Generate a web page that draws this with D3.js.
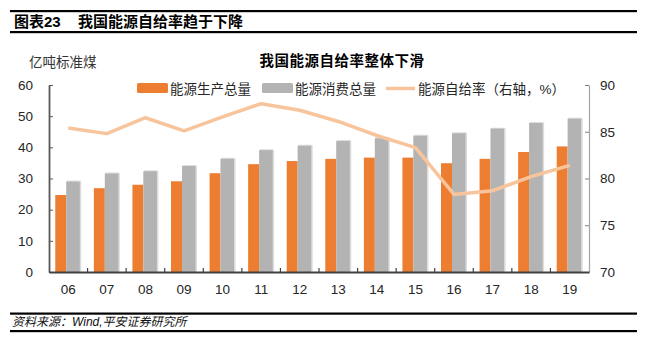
<!DOCTYPE html>
<html>
<head>
<meta charset="utf-8">
<script src="https://cdn.jsdelivr.net/npm/d3@7"></script>
<style>
  body { margin: 0; background: #fff; }
  svg { display: block; font-family: "Liberation Sans", Arial, "Noto Sans CJK SC", sans-serif; }
  .tick-label { font-size: 13.5px; fill: #262626; }
  .legend-label { font-size: 13.5px; fill: #262626; }
</style>
</head>
<body>
<svg width="646" height="341"></svg>
<script>
// chart values
var years = ['06','07','08','09','10','11','12','13','14','15','16','17','18','19'];
var production = [24.7, 26.9, 28.0, 29.1, 31.7, 34.6, 35.6, 36.3, 36.7, 36.7, 34.9, 36.3, 38.5, 40.3];
var consumption = [29.0, 31.6, 32.3, 34.0, 36.3, 39.1, 40.5, 42.0, 42.9, 43.7, 44.5, 46.0, 47.8, 49.2];
var selfRate = [85.4, 84.8, 86.5, 85.1, 86.6, 88.0, 87.3, 86.1, 84.6, 83.3, 78.3, 78.7, 80.2, 81.4];
var leftTicks = [0, 10, 20, 30, 40, 50, 60];
var rightTicks = [70, 75, 80, 85, 90];

var svg = d3.select('svg'),
    width = 646, height = 341;

var plotLeft = 49, plotRight = 589, plotTop = 85, plotBottom = 272;

var x = d3.scaleBand().domain(years).range([plotLeft, plotRight]);
var yL = d3.scaleLinear().domain([0, 60]).range([plotBottom, plotTop]);
var yR = d3.scaleLinear().domain([70, 90]).range([plotBottom, plotTop]);

// header / footer rules
svg.append('rect').attr('x', 10).attr('y', 10).attr('width', 627).attr('height', 2.2).attr('fill', '#000');
svg.append('rect').attr('x', 10).attr('y', 31).attr('width', 627).attr('height', 2.2).attr('fill', '#000');
svg.append('rect').attr('x', 10).attr('y', 312.5).attr('width', 627).attr('height', 2.2).attr('fill', '#000');
svg.append('rect').attr('x', 10).attr('y', 330).attr('width', 627).attr('height', 2.2).attr('fill', '#000');

svg.append('text')
    .attr('x', 14).attr('y', 27)
    .style('font-size', '15px').style('font-weight', 'bold')
    .text('图表23');
svg.append('text')
    .attr('x', 78).attr('y', 27)
    .style('font-size', '15px').style('font-weight', 'bold')
    .text('我国能源自给率趋于下降');

svg.append('text')
    .attr('x', 12).attr('y', 326)
    .style('font-size', '12px').style('font-style', 'italic').attr('fill', '#111')
    .text('资料来源：Wind,平安证券研究所');

// chart title + unit
svg.append('text')
    .attr('x', 342).attr('y', 66)
    .attr('text-anchor', 'middle')
    .style('font-size', '14.5px').style('font-weight', 'bold')
    .style('letter-spacing', '0.5px')
    .text('我国能源自给率整体下滑');
svg.append('text')
    .attr('x', 29).attr('y', 67)
    .style('font-size', '13.5px').attr('fill', '#333')
    .text('亿吨标准煤');

// bars
var g = svg.append('g');
var bw1 = 11, bw2 = 13.5;

g.selectAll('rect.prod').data(production).enter().append('rect')
    .attr('class', 'prod')
    .attr('x', function(d, i) { return x(years[i]) + x.bandwidth()/2 - 13; })
    .attr('y', function(d) { return yL(d); })
    .attr('width', bw1)
    .attr('height', function(d) { return yL(0) - yL(d); })
    .attr('fill', '#ED7D31');

// soft shadow on grey bars
g.selectAll('rect.consShadow').data(consumption).enter().append('rect')
    .attr('class', 'consShadow')
    .attr('x', function(d, i) { return x(years[i]) + x.bandwidth()/2 - 2; })
    .attr('y', function(d) { return yL(d) - 1; })
    .attr('width', bw2 + 1.5)
    .attr('height', function(d) { return yL(0) - yL(d) + 1; })
    .attr('rx', 1.5)
    .attr('fill', '#DCDCDC');

g.selectAll('rect.cons').data(consumption).enter().append('rect')
    .attr('class', 'cons')
    .attr('x', function(d, i) { return x(years[i]) + x.bandwidth()/2 - 2; })
    .attr('y', function(d) { return yL(d); })
    .attr('width', bw2)
    .attr('height', function(d) { return yL(0) - yL(d); })
    .attr('fill', '#B3B3B3');

// line on right axis
var line = d3.line()
    .x(function(d, i) { return x(years[i]) + x.bandwidth()/2; })
    .y(function(d) { return yR(d); });

svg.append('path')
    .datum(selfRate)
    .attr('d', line)
    .attr('fill', 'none')
    .attr('stroke', '#F8C49C')
    .attr('stroke-width', 3.5)
    .attr('stroke-linejoin', 'round');

// left axis
var axL = svg.append('g').attr('transform', 'translate(' + plotLeft + ',0)')
    .call(d3.axisLeft(yL).tickValues(leftTicks).tickSizeInner(-4).tickSizeOuter(0).tickPadding(16));
axL.select('.domain').attr('stroke', '#595959').attr('stroke-width', 1.8);
axL.selectAll('.tick line').attr('stroke', '#595959');
axL.selectAll('.tick text').attr('class', 'tick-label').attr('fill', null);

// right axis
var axR = svg.append('g').attr('transform', 'translate(' + plotRight + ',0)')
    .call(d3.axisRight(yR).tickValues(rightTicks).tickSizeInner(-4).tickSizeOuter(0).tickPadding(11));
axR.select('.domain').attr('stroke', '#A6A6A6').attr('stroke-width', 1.2);
axR.selectAll('.tick line').attr('stroke', '#7F7F7F');
axR.selectAll('.tick text').attr('class', 'tick-label').attr('fill', null);

// bottom axis
var axB = svg.append('g').attr('transform', 'translate(0,' + plotBottom + ')')
    .call(d3.axisBottom(x).tickSize(0).tickPadding(12));
axB.select('.domain').attr('stroke', '#404040').attr('stroke-width', 2);
axB.selectAll('.tick text').attr('class', 'tick-label').attr('fill', null);
axB.selectAll('line.sep').data(years.slice(1)).enter().append('line')
    .attr('class', 'sep')
    .attr('x1', function(d) { return x(d); })
    .attr('x2', function(d) { return x(d); })
    .attr('y1', -4).attr('y2', 0)
    .attr('stroke', '#404040').attr('stroke-width', 1.2);

// legend
var lg = svg.append('g').attr('class', 'legend');
lg.append('rect').attr('x', 137).attr('y', 83).attr('width', 31).attr('height', 10).attr('rx', 1.5).attr('fill', '#ED7D31');
lg.append('text').attr('class', 'legend-label').attr('x', 170).attr('y', 94).text('能源生产总量');
lg.append('rect').attr('x', 262).attr('y', 83).attr('width', 31).attr('height', 10).attr('rx', 1.5).attr('fill', '#B3B3B3');
lg.append('text').attr('class', 'legend-label').attr('x', 295).attr('y', 94).text('能源消费总量');
lg.append('line').attr('x1', 386).attr('x2', 415).attr('y1', 88.5).attr('y2', 88.5)
    .attr('stroke', '#F8C49C').attr('stroke-width', 3.5);
lg.append('text').attr('class', 'legend-label').attr('x', 418).attr('y', 94).text('能源自给率（右轴，%）');
</script>
</body>
</html>
